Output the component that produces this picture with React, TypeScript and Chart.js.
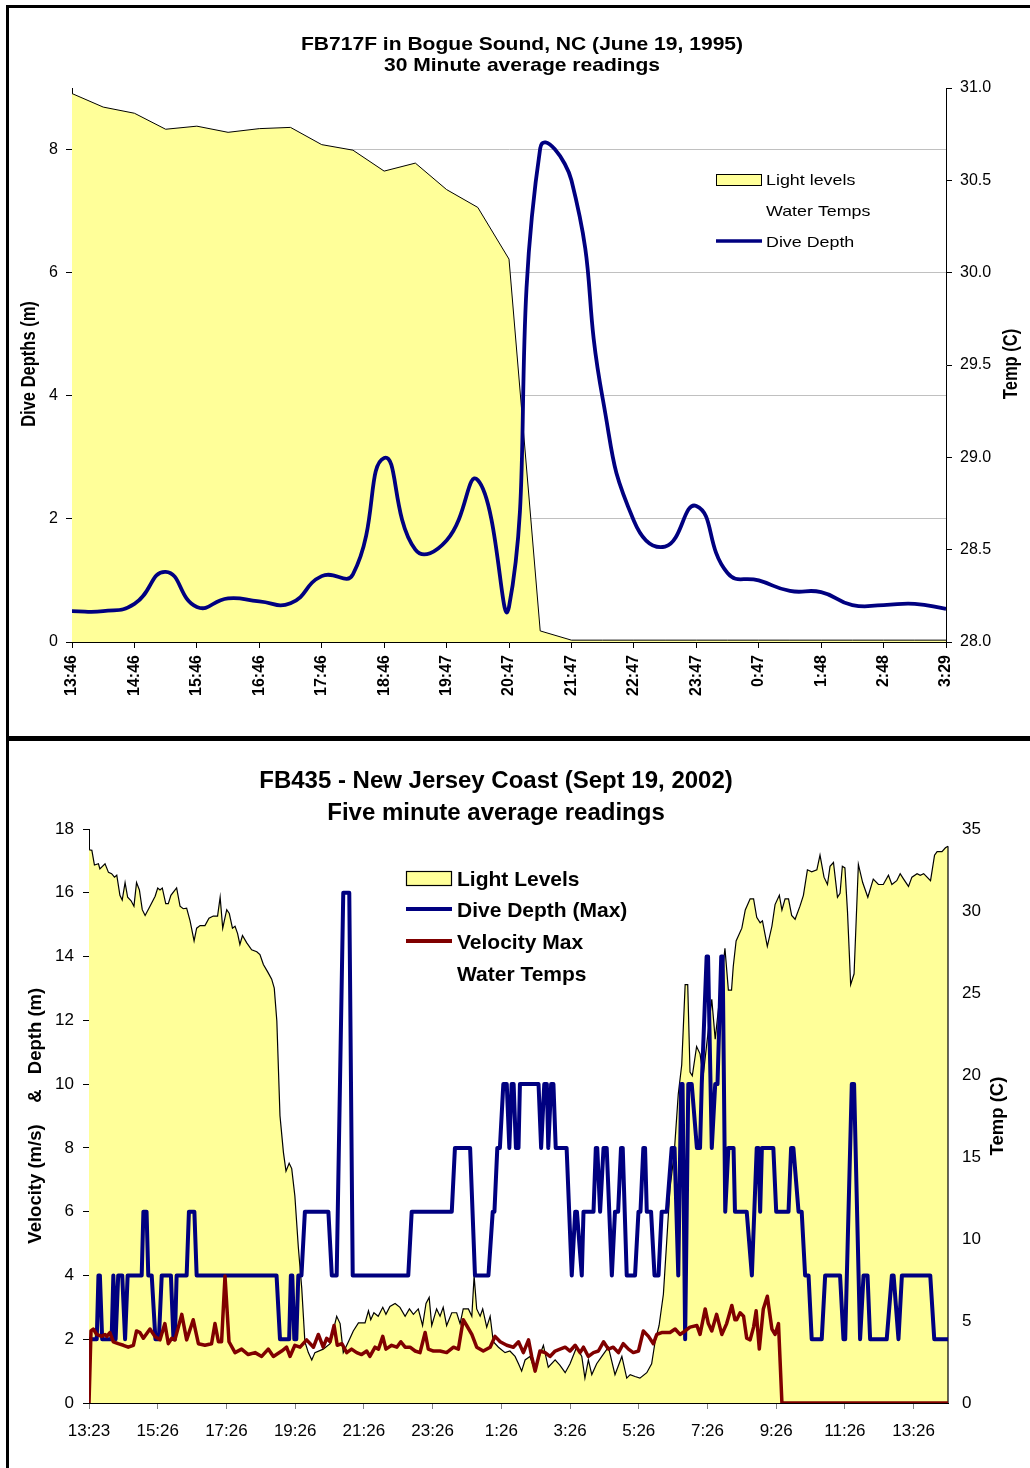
import React, { useEffect, useRef } from "react";
import { Chart, registerables } from "chart.js";

Chart.register(...registerables);

const FONT = '"Liberation Sans", Arial, Helvetica, sans-serif';

// ---------------- Top chart (FB717F) ----------------
const topTitle1 = "FB717F in Bogue Sound, NC (June 19, 1995)";
const topTitle2 = "30 Minute average readings";
const topTimeLabels = [
  "13:46", "14:16", "14:46", "15:16", "15:46", "16:16", "16:46", "17:16", "17:46", "18:16",
  "18:46", "19:17", "19:47", "20:17", "20:47", "21:17", "21:47", "22:17", "22:47", "23:17",
  "23:47", "0:17", "0:47", "1:18", "1:48", "2:18", "2:48", "3:18", "3:29",
];
const topDepthTicks = [0, 2, 4, 6, 8];
const topLightLevels = [
  8.91, 8.69, 8.59, 8.33, 8.38, 8.28, 8.34, 8.36, 8.08, 7.99,
  7.65, 7.78, 7.35, 7.06, 6.22, 0.18, 0.03, 0.03, 0.03, 0.03,
  0.03, 0.03, 0.03, 0.03, 0.03, 0.03, 0.03, 0.03, 0.03,
];
const topDiveDepth = [
  0.5, 0.5, 0.62, 1.14, 0.57, 0.71, 0.66, 0.63, 1.07, 1.1,
  2.99, 1.5, 1.65, 2.63, 0.57, 8.02, 7.5, 3.96, 1.97, 1.55,
  2.21, 1.12, 1.0, 0.83, 0.81, 0.6, 0.6, 0.62, 0.54,
];

// ---------------- Bottom chart (FB435) ----------------
const bottomTitle1 = "FB435 - New Jersey Coast (Sept 19, 2002)";
const bottomTitle2 = "Five minute average readings";
// one tick label every 24 five-minute samples
const bottomTickLabels = ["13:23", "15:26", "17:26", "19:26", "21:26", "23:26", "1:26", "3:26", "5:26", "7:26", "9:26", "11:26", "13:26"];
// [sample index, value]
const bottomLight: [number, number][] = [
  [0, 17.35], [1, 17.33], [1.9, 16.87], [3.3, 16.91], [3.8, 16.75], [5.6, 16.91], [6.8, 16.64], [7.9, 16.6], [8.9, 16.49], [9.7, 16.55],
  [10.8, 15.92], [11.6, 15.77], [12.6, 16.32], [13.5, 15.86], [14.7, 15.75], [15.7, 15.58], [16.6, 16.32], [17.6, 16.09], [18.6, 15.47], [19.6, 15.29],
  [21.3, 15.58], [23.1, 15.89], [24, 16.15], [24.8, 16.09], [25.6, 16.15], [26.8, 15.66], [27.7, 15.66], [28.6, 15.92], [30.6, 16.15], [31.8, 15.58],
  [32.9, 15.5], [34.1, 15.52], [35.3, 15.12], [36.7, 14.49], [37.6, 14.89], [38.8, 14.97], [40.5, 14.97], [41.9, 15.2], [43.4, 15.27], [44.9, 15.27],
  [45.8, 15.86], [46.7, 14.89], [48.1, 15.47], [49, 15.35], [50.1, 14.89], [51, 14.95], [51.9, 14.72], [52.7, 14.38], [53.6, 14.66], [55.1, 14.43],
  [56.8, 14.21], [58.6, 14.15], [59.7, 14.06], [60.9, 13.75], [62.4, 13.52], [63.8, 13.29], [64.7, 13.01], [65.6, 11.98], [66.7, 9.01], [67.9, 7.86],
  [68.8, 7.27], [69.9, 7.52], [70.8, 7.35], [71.9, 6.49], [73.1, 4.89], [74.3, 3.6], [75.4, 1.92], [76.6, 1.58], [77.8, 1.35], [78.9, 1.58],
  [81.8, 1.69], [84.2, 1.86], [86.5, 2.72], [87.7, 2.49], [88.8, 1.58], [90.6, 1.92], [92.3, 2.26], [94.1, 2.51], [96.4, 2.51], [97.6, 2.89],
  [98.4, 2.61], [99.5, 2.83], [101, 2.72], [102.6, 3.0], [103.7, 2.78], [105.1, 3.03], [106.9, 3.12], [108.6, 3.0], [110.4, 2.72], [111.9, 2.95],
  [113.3, 2.78], [115, 2.95], [116.5, 2.43], [117.7, 3.12], [118.8, 3.31], [119.7, 2.43], [121.4, 2.95], [122.6, 2.72], [123.7, 3.0], [124.9, 2.43],
  [126.7, 2.83], [128.4, 2.83], [129.6, 2.49], [130.7, 2.95], [132.5, 2.95], [133.7, 2.72], [134.5, 3.98], [135.4, 2.95], [136.6, 2.72], [137.5, 2.95],
  [138.9, 2.38], [140.1, 2.72], [141.2, 1.92], [143, 1.75], [145.3, 1.58], [147, 1.63], [148.8, 1.46], [150, 1.23], [151.1, 1.0], [152.3, 1.35],
  [154, 1.46], [155.8, 1.0], [157.5, 1.52], [158.7, 1.81], [160.4, 1.12], [162.8, 1.35], [164.5, 1.18], [166.3, 0.95], [168, 1.23], [170.3, 1.75],
  [172.1, 1.46], [173.2, 0.78], [174.4, 1.35], [175.6, 0.89], [177.3, 1.23], [179.1, 1.46], [181.4, 1.75], [183.7, 0.89], [186.1, 1.46], [187.8, 0.78],
  [189, 0.89], [190.7, 0.83], [192.4, 0.78], [194.8, 0.95], [196.5, 1.23], [197.7, 1.92], [199.1, 2.43], [200.6, 3.41], [201.8, 5.12], [202.9, 6.72],
  [204.4, 7.86], [205.8, 9.69], [207, 10.6], [208.2, 13.12], [209.1, 13.12], [209.9, 10.38], [210.7, 10.26], [212.2, 11.18], [213.4, 10.95], [214.5, 10.26],
  [217.5, 12.66], [218.7, 11.41], [222.1, 14.26], [223.3, 12.95], [224.4, 12.95], [225, 13.69], [226, 14.49], [228, 14.89], [229.2, 15.46], [230.9, 15.81],
  [232.1, 15.81], [233.2, 15.23], [234.4, 15.06], [235.2, 15.12], [236.9, 14.32], [238.5, 14.95], [239.6, 15.63], [241.1, 15.92], [242, 15.46], [243.1, 15.81],
  [244.3, 15.81], [245.4, 15.29], [246.6, 15.17], [248.3, 15.58], [249.5, 15.92], [250.9, 16.72], [252.4, 16.66], [254.2, 16.72], [255.3, 17.18], [256.7, 16.49],
  [257.9, 16.26], [258.8, 16.83], [260, 16.95], [261.4, 15.86], [262.3, 15.98], [263.1, 16.83], [264, 16.78], [264.9, 15.41], [266, 13.12], [267.2, 13.46],
  [268.7, 16.89], [270.2, 16.32], [272, 15.86], [273.9, 16.43], [275.7, 16.26], [277.4, 16.26], [279.2, 16.55], [280.4, 16.26], [282.1, 16.38], [283.3, 16.6],
  [284.5, 16.43], [286.2, 16.2], [287.4, 16.49], [289.2, 16.6], [290.3, 16.55], [291.5, 16.6], [293.9, 16.38], [295.3, 17.18], [296.2, 17.29], [297.9, 17.29],
  [299.1, 17.41], [300, 17.46],
];
const bottomDepth: [number, number][] = [
  [0.5, 2], [2.7, 2], [3.3, 4], [3.8, 4], [4.6, 2], [7.9, 2], [8.5, 4], [9.3, 2], [10.2, 4], [11.6, 4],
  [12.6, 2], [13.5, 4], [18.4, 4], [19, 6], [20.1, 6], [20.7, 4], [21.9, 4], [23.2, 2], [24.4, 2], [25.4, 4],
  [28.6, 4], [29.5, 2], [30, 2], [30.6, 4], [34.1, 4], [34.9, 6], [36.8, 6], [37.6, 4], [65.5, 4], [66.7, 2],
  [69.9, 2], [70.5, 4], [71, 4], [71.7, 2], [72.4, 2], [73.1, 4], [74.2, 4], [75.4, 6], [83.6, 6], [84.8, 4],
  [86.5, 4], [88.8, 16], [90.9, 16], [92.1, 4], [111.5, 4], [112.7, 6], [126.7, 6], [127.8, 8], [133.1, 8], [134.8, 4],
  [139.5, 4], [141, 6], [141.6, 6], [142.6, 8], [143.5, 8], [144.7, 10], [145.9, 10], [146.8, 8], [147.6, 10], [148.3, 10],
  [149.1, 8], [150, 8], [150.5, 10], [157, 10], [157.9, 8], [159, 10], [159.9, 10], [160.4, 8], [161.4, 10], [162.2, 10],
  [163, 8], [166.8, 8], [168.6, 4], [169.8, 6], [170.4, 6], [172.1, 4], [172.7, 6], [176.2, 6], [177, 8], [177.5, 8],
  [178.5, 6], [179.7, 8], [180.8, 8], [182.6, 4], [183.7, 6], [184.8, 6], [185.8, 8], [186.4, 8], [187.8, 4], [190.7, 4],
  [191.9, 6], [192.6, 6], [193.6, 8], [194.2, 8], [194.8, 6], [196.3, 6], [197.5, 4], [198.9, 4], [200, 6], [201.8, 6],
  [203.5, 8], [204.5, 8], [205.8, 4], [206.8, 10], [207.3, 10], [208.2, 2], [209.3, 10], [210.5, 10], [212.3, 8], [213.4, 8],
  [214, 10], [215.7, 14], [216.2, 14], [217.5, 8], [218.7, 10], [219.5, 10], [220.8, 14], [221.3, 14], [222.2, 6], [223.3, 8],
  [225.1, 8], [225.6, 6], [229.7, 6], [231.5, 4], [233.2, 8], [233.8, 8], [234.4, 6], [235, 8], [239, 8], [240, 6],
  [244.3, 6], [245.2, 8], [246, 8], [247.8, 6], [248.9, 6], [250.1, 4], [251.3, 4], [252.4, 2], [255.9, 2], [257.1, 4],
  [262.3, 4], [263.5, 2], [264.1, 2], [266.4, 10], [267.2, 10], [269.3, 2], [270.5, 4], [271.9, 4], [272.8, 2], [278.6, 2],
  [280.4, 4], [281, 4], [282.7, 2], [283.9, 4], [293.8, 4], [295.2, 2], [300, 2],
];
const bottomVelocity: [number, number][] = [
  [0, 0], [0.7, 2.26], [1.5, 2.32], [2.7, 2.15], [4.4, 2.09], [5.6, 2.15], [6.2, 2.09], [7.3, 2.21], [8.5, 1.92], [10.2, 1.86],
  [12, 1.81], [13.7, 1.75], [15.5, 1.81], [16.6, 2.26], [17.8, 2.21], [19, 2.03], [21.3, 2.32], [23, 2.09], [24.8, 1.98], [26.5, 2.49],
  [27.7, 1.86], [28.9, 2.03], [30, 1.98], [32.4, 2.78], [34.1, 1.98], [36.4, 2.61], [38.2, 1.86], [40.5, 1.81], [42.8, 1.86], [44, 2.49],
  [45.2, 1.92], [46.3, 1.92], [47.5, 3.98], [48.9, 1.92], [51, 1.58], [53.3, 1.69], [55.6, 1.52], [58, 1.58], [60.3, 1.46], [62.6, 1.69],
  [64.4, 1.46], [67.3, 1.63], [69, 1.75], [70.2, 1.46], [71.9, 1.81], [73.7, 1.75], [76, 1.98], [78.4, 1.75], [80.1, 2.15], [81.8, 1.75],
  [83, 2.03], [84.2, 1.92], [85.6, 2.43], [86.7, 1.81], [88.3, 1.86], [90, 1.58], [91.7, 1.69], [93.5, 1.58], [95.2, 1.52], [97, 1.63],
  [98.1, 1.46], [99.9, 1.75], [101.1, 1.69], [102.6, 2.09], [103.7, 1.69], [105.7, 1.81], [107.5, 1.75], [108.9, 1.92], [110.4, 1.75], [112.1, 1.75],
  [113.9, 1.63], [115.6, 1.58], [117.4, 2.21], [118.5, 1.69], [120.3, 1.63], [122.6, 1.63], [124.9, 1.58], [127.3, 1.75], [129, 1.69], [130.7, 2.61],
  [131.9, 2.43], [133.7, 2.15], [135.4, 1.75], [137.7, 1.63], [140.1, 1.75], [141.8, 2.09], [143.6, 1.92], [145.9, 1.81], [148.2, 1.75], [150, 1.92],
  [151.7, 1.58], [153.5, 1.98], [154.6, 1.46], [155.8, 1.0], [157.5, 1.63], [159.3, 1.58], [161, 1.46], [162.8, 1.63], [164.5, 1.69], [166.3, 1.75],
  [168, 1.63], [169.8, 1.81], [171.5, 1.58], [172.7, 1.75], [174.4, 1.46], [176.2, 1.58], [177.9, 1.63], [179.7, 1.92], [181.4, 1.69], [183.1, 1.75],
  [184.9, 1.58], [186.6, 1.86], [188.4, 1.69], [190.1, 1.58], [191.9, 1.63], [193.6, 2.26], [195.4, 2.09], [197.1, 1.86], [198.3, 2.15], [200, 2.21],
  [202.9, 2.21], [204.7, 2.32], [206.4, 2.15], [208.2, 2.26], [209.9, 2.38], [212.3, 2.43], [213.4, 2.15], [215.2, 2.95], [216.3, 2.49], [217.5, 2.26],
  [219.2, 2.78], [221, 2.15], [222.7, 2.49], [224.5, 3.06], [225.6, 2.61], [226.2, 2.61], [227.4, 2.83], [228.6, 2.72], [229.7, 2.03], [230.9, 1.98],
  [232.1, 2.38], [233, 2.89], [234.1, 1.69], [235.5, 2.95], [236.9, 3.35], [238.5, 2.32], [239.6, 2.15], [240.8, 2.49], [242, 0], [300, 0],
];

const LIGHT_FILL = "#FFFF99";
const NAVY = "#000080";
const MAROON = "#800000";

function txt(
  ctx: CanvasRenderingContext2D,
  s: string,
  x: number,
  y: number,
  font: string,
  align: CanvasTextAlign = "center",
  sx = 1,
  rot = 0,
  baseline: CanvasTextBaseline = "alphabetic"
) {
  ctx.save();
  ctx.translate(x, y);
  ctx.scale(sx, 1);
  if (rot) ctx.rotate(rot);
  ctx.font = font;
  ctx.fillStyle = "#000";
  ctx.textAlign = align;
  ctx.textBaseline = baseline;
  ctx.fillText(s, 0, 0);
  ctx.restore();
}

// ---------------- Top chart ----------------
function makeTopConfig(): any {
  const ox = 9;
  const oy = 8;
  const S = 1.19;
  const decor = {
    id: "topDecor",
    afterDraw(chart: any) {
      const ctx: CanvasRenderingContext2D = chart.ctx;
      txt(ctx, topTitle1, 522 - ox, 50 - oy, `bold 17.7px ${FONT}`, "center", S);
      txt(ctx, topTitle2, 522 - ox, 71 - oy, `bold 17.7px ${FONT}`, "center", S);
      txt(ctx, "Dive Depths (m)", 30 - ox, 364 - oy, `bold 16.5px ${FONT}`, "center", S, -Math.PI / 2, "middle");
      txt(ctx, "Temp (C)", 1012 - ox, 364 - oy, `bold 16.5px ${FONT}`, "center", S, -Math.PI / 2, "middle");
      // legend
      ctx.save();
      ctx.fillStyle = LIGHT_FILL;
      ctx.fillRect(716.5 - ox, 174.5 - oy, 45, 11);
      ctx.strokeStyle = "#000";
      ctx.lineWidth = 1;
      ctx.strokeRect(716.5 - ox, 174.5 - oy, 45, 11);
      ctx.strokeStyle = NAVY;
      ctx.lineWidth = 3.5;
      ctx.beginPath();
      ctx.moveTo(716 - ox, 241 - oy);
      ctx.lineTo(762 - ox, 241 - oy);
      ctx.stroke();
      ctx.restore();
      txt(ctx, "Light levels", 766 - ox, 185 - oy, `15px ${FONT}`, "left", S);
      txt(ctx, "Water Temps", 766 - ox, 216 - oy, `15px ${FONT}`, "left", S);
      txt(ctx, "Dive Depth", 766 - ox, 247 - oy, `15px ${FONT}`, "left", S);
    },
  };
  return {
    type: "line",
    data: {
      labels: topTimeLabels,
      datasets: [
        {
          label: "Dive Depth",
          data: topDiveDepth,
          borderColor: NAVY,
          borderWidth: 3.8,
          pointRadius: 0,
          tension: 0.5,
          fill: false,
          yAxisID: "y",
          order: 1,
        },
        {
          label: "Water Temps",
          data: [],
          borderColor: "rgba(0,0,0,0)",
          pointRadius: 0,
          showLine: false,
          yAxisID: "y1",
          order: 2,
        },
        {
          label: "Light levels",
          data: topLightLevels,
          borderColor: "#000",
          borderWidth: 1,
          backgroundColor: LIGHT_FILL,
          fill: "origin",
          pointRadius: 0,
          tension: 0,
          yAxisID: "y",
          order: 3,
        },
      ],
    },
    options: {
      responsive: false,
      animation: false,
      devicePixelRatio: 1,
      layout: { padding: { top: 80, left: 0, right: 0, bottom: 0 } },
      plugins: { legend: { display: false }, tooltip: { enabled: false }, title: { display: false } },
      scales: {
        x: {
          type: "category",
          grid: {
            drawOnChartArea: false,
            drawTicks: true,
            tickLength: 6,
            tickColor: (c: any) => (c.index % 2 === 0 ? "#000" : "rgba(0,0,0,0)"),
          },
          border: { color: "#000", width: 1 },
          ticks: {
            autoSkip: false,
            minRotation: 90,
            maxRotation: 90,
            padding: 7,
            color: "#000",
            font: { family: FONT, size: 16, weight: "bold" },
            callback: (_v: any, i: number) => (i % 2 === 0 ? topTimeLabels[i] : ""),
          },
          afterFit: (s: any) => {
            s.height = 94;
          },
        },
        y: {
          position: "left",
          min: 0,
          max: 9,
          ticks: { stepSize: 2, padding: 8, color: "#000", font: { family: FONT, size: 16 } },
          afterBuildTicks: (s: any) => {
            s.ticks = topDepthTicks.map((v) => ({ value: v }));
          },
          grid: {
            color: (c: any) => (c.tick && c.tick.value === 0 ? "rgba(0,0,0,0)" : "#c0c0c0"),
            tickColor: "#000",
            tickLength: 6,
            drawTicks: true,
          },
          border: { color: "#000", width: 1 },
          afterFit: (s: any) => {
            s.width = 63;
          },
        },
        y1: {
          position: "right",
          min: 28,
          max: 31,
          ticks: {
            stepSize: 0.5,
            padding: 8,
            color: "#000",
            font: { family: FONT, size: 16 },
            callback: (v: any) => Number(v).toFixed(1),
          },
          grid: { drawOnChartArea: false, tickColor: "#000", tickLength: 6, drawTicks: true },
          border: { color: "#000", width: 1 },
          afterFit: (s: any) => {
            s.width = 84;
          },
        },
      },
    },
    plugins: [decor],
  };
}

// ---------------- Bottom chart ----------------
function makeBottomConfig(): any {
  const ox = 9;
  const oy = 741;
  const decor = {
    id: "bottomDecor",
    afterDatasetDraw(chart: any, args: any) {
      if (args.index !== 0) return;
      const ctx: CanvasRenderingContext2D = chart.ctx;
      const xs = chart.scales.x;
      const ys = chart.scales.y;
      const last = bottomLight[bottomLight.length - 1];
      const px = xs.getPixelForValue(last[0]);
      ctx.save();
      ctx.strokeStyle = "#000";
      ctx.lineWidth = 1.2;
      ctx.beginPath();
      ctx.moveTo(px, ys.getPixelForValue(last[1]));
      ctx.lineTo(px, ys.getPixelForValue(0));
      ctx.stroke();
      ctx.restore();
    },
    afterDraw(chart: any) {
      const ctx: CanvasRenderingContext2D = chart.ctx;
      txt(ctx, bottomTitle1, 496 - ox, 788 - oy, `bold 24px ${FONT}`, "center");
      txt(ctx, bottomTitle2, 496 - ox, 820 - oy, `bold 24px ${FONT}`, "center");
      const af = `bold 18.5px ${FONT}`;
      txt(ctx, "Velocity (m/s)", 36 - ox, 1184 - oy, af, "center", 1, -Math.PI / 2, "middle");
      txt(ctx, "&", 36 - ox, 1096 - oy, af, "center", 1, -Math.PI / 2, "middle");
      txt(ctx, "Depth (m)", 36 - ox, 1031 - oy, af, "center", 1, -Math.PI / 2, "middle");
      txt(ctx, "Temp (C)", 998 - ox, 1116 - oy, af, "center", 1, -Math.PI / 2, "middle");
      // legend
      ctx.save();
      ctx.fillStyle = LIGHT_FILL;
      ctx.fillRect(406.5 - ox, 871.5 - oy, 45, 14);
      ctx.strokeStyle = "#000";
      ctx.lineWidth = 1.2;
      ctx.strokeRect(406.5 - ox, 871.5 - oy, 45, 14);
      ctx.lineWidth = 4;
      ctx.strokeStyle = NAVY;
      ctx.beginPath();
      ctx.moveTo(406 - ox, 909 - oy);
      ctx.lineTo(452 - ox, 909 - oy);
      ctx.stroke();
      ctx.strokeStyle = MAROON;
      ctx.beginPath();
      ctx.moveTo(406 - ox, 941 - oy);
      ctx.lineTo(452 - ox, 941 - oy);
      ctx.stroke();
      ctx.restore();
      const lf = `bold 21px ${FONT}`;
      txt(ctx, "Light Levels", 457 - ox, 885.5 - oy, lf, "left");
      txt(ctx, "Dive Depth (Max)", 457 - ox, 917 - oy, lf, "left");
      txt(ctx, "Velocity Max", 457 - ox, 949 - oy, lf, "left");
      txt(ctx, "Water Temps", 457 - ox, 980.5 - oy, lf, "left");
    },
  };
  const toXY = (a: [number, number][]) => a.map(([x, y]) => ({ x, y }));
  return {
    type: "line",
    data: {
      datasets: [
        {
          label: "Light Levels",
          data: toXY(bottomLight),
          borderColor: "#000",
          borderWidth: 1.2,
          backgroundColor: LIGHT_FILL,
          fill: "origin",
          pointRadius: 0,
          tension: 0,
          yAxisID: "y",
          order: 3,
        },
        {
          label: "Dive Depth (Max)",
          data: toXY(bottomDepth),
          borderColor: NAVY,
          borderWidth: 4,
          borderJoinStyle: "round",
          borderCapStyle: "round",
          pointRadius: 0,
          tension: 0,
          fill: false,
          yAxisID: "y",
          order: 2,
        },
        {
          label: "Velocity Max",
          data: toXY(bottomVelocity),
          borderColor: MAROON,
          borderWidth: 3.5,
          borderJoinStyle: "round",
          borderCapStyle: "round",
          pointRadius: 0,
          tension: 0,
          fill: false,
          yAxisID: "y",
          order: 1,
        },
        {
          label: "Water Temps",
          data: [],
          borderColor: "rgba(0,0,0,0)",
          pointRadius: 0,
          showLine: false,
          yAxisID: "y1",
          order: 4,
        },
      ],
    },
    options: {
      responsive: false,
      animation: false,
      devicePixelRatio: 1,
      layout: { padding: { top: 88, left: 0, right: 0, bottom: 0 } },
      plugins: { legend: { display: false }, tooltip: { enabled: false }, title: { display: false } },
      scales: {
        x: {
          type: "linear",
          min: 0,
          max: 300,
          ticks: {
            stepSize: 24,
            autoSkip: false,
            minRotation: 0,
            maxRotation: 0,
            padding: 12,
            color: "#000",
            font: { family: FONT, size: 17 },
            callback: (v: any) => bottomTickLabels[Math.round(Number(v) / 24)] ?? "",
          },
          afterBuildTicks: (s: any) => {
            s.ticks = bottomTickLabels.map((_l, i) => ({ value: i * 24 }));
          },
          grid: { drawOnChartArea: false, drawTicks: true, tickLength: 6, tickColor: "#808080" },
          border: { color: "#000", width: 1 },
          afterFit: (s: any) => {
            s.height = 65;
          },
        },
        y: {
          position: "left",
          min: 0,
          max: 18,
          ticks: { stepSize: 2, padding: 9, color: "#000", font: { family: FONT, size: 17 } },
          grid: { drawOnChartArea: false, drawTicks: true, tickLength: 6, tickColor: "#000" },
          border: { color: "#000", width: 1 },
          afterFit: (s: any) => {
            s.width = 80;
          },
        },
        y1: {
          position: "right",
          min: 0,
          max: 35,
          ticks: { stepSize: 5, padding: 14, color: "#000", font: { family: FONT, size: 17 } },
          grid: { display: false, drawOnChartArea: false, drawTicks: false },
          border: { display: false },
          afterFit: (s: any) => {
            s.width = 82;
          },
        },
      },
    },
    plugins: [decor],
  };
}

function ChartCanvas(props: { make: () => any; left: number; top: number; width: number; height: number }) {
  const ref = useRef<HTMLCanvasElement | null>(null);
  useEffect(() => {
    if (!ref.current) return;
    const chart = new Chart(ref.current, props.make());
    return () => chart.destroy();
  }, []);
  return (
    <canvas
      ref={ref}
      width={props.width}
      height={props.height}
      style={{ position: "absolute", left: props.left, top: props.top, width: props.width, height: props.height }}
    />
  );
}

export default function App() {
  return (
    <div
      style={{
        position: "absolute",
        left: 0,
        top: 0,
        width: 1030,
        height: 1468,
        background: "#fff",
        overflow: "hidden",
      }}
    >
      <ChartCanvas make={makeTopConfig} left={9} top={8} width={1021} height={728} />
      <ChartCanvas make={makeBottomConfig} left={9} top={741} width={1021} height={727} />
      <div style={{ position: "absolute", left: 6, top: 5, width: 1024, height: 3, background: "#000" }} />
      <div style={{ position: "absolute", left: 6, top: 5, width: 3, height: 1463, background: "#000" }} />
      <div style={{ position: "absolute", left: 6, top: 736, width: 1024, height: 5, background: "#000" }} />
    </div>
  );
}
